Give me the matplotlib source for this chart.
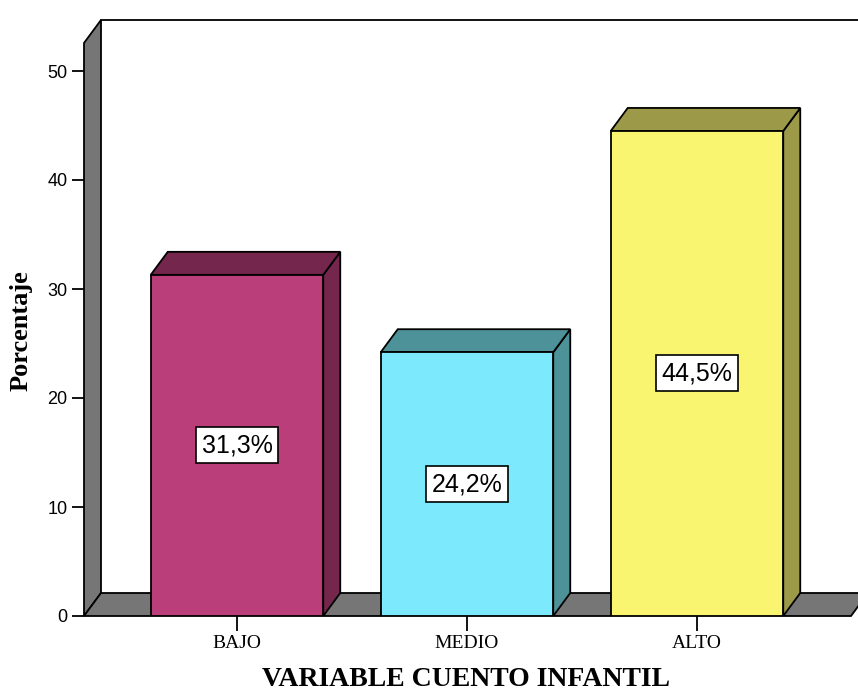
import matplotlib
matplotlib.use("Agg")
import matplotlib.pyplot as plt
from matplotlib.patches import Polygon, Rectangle

categories = ["BAJO", "MEDIO", "ALTO"]
values = [31.3, 24.2, 44.5]
labels = ["31,3%", "24,2%", "44,5%"]
yticks = [0, 10, 20, 30, 40, 50]

front_colors = ["#BA3E7A", "#7DE9FC", "#F9F570"]
dark_colors = ["#74264C", "#4E9299", "#9C9949"]
gray = "#767676"

W, H = 858, 691
fig = plt.figure(figsize=(W / 100, H / 100), dpi=100)
px_unit_y = 10.9
px_unit_x = 230.0
x0 = -(237 - 84) / px_unit_x
x1 = 2 + (858 - 697) / px_unit_x
ytop = (616 - 19) / px_unit_y
ax = fig.add_axes([84 / W, (H - 616) / H, (858 - 84) / W, (616 - 19) / H])
ax.set_xlim(x0, x1)
ax.set_ylim(0, ytop)
for s in ax.spines.values():
    s.set_visible(False)

DX = 17 / px_unit_x
DY = 23 / px_unit_y
wall_top = (616 - 43) / px_unit_y
floor_right = 2 + (851 - 697) / px_unit_x
lw = 1.3

# left wall
ax.add_patch(Polygon([(x0, 0), (x0, wall_top), (x0 + DX, wall_top + DY), (x0 + DX, DY)],
                     closed=True, facecolor=gray, edgecolor="black", lw=lw, clip_on=False, zorder=1))
# floor
ax.add_patch(Polygon([(x0, 0), (floor_right, 0), (floor_right + DX, DY), (x0 + DX, DY)],
                     closed=True, facecolor=gray, edgecolor="black", lw=lw, clip_on=False, zorder=1))
# top frame line of back wall
ax.plot([x0 + DX, x1 + 0.2], [wall_top + DY, wall_top + DY], color="black", lw=lw, clip_on=False, zorder=1)

bw = 0.75
for i, (v, fc, dc, lab) in enumerate(zip(values, front_colors, dark_colors, labels)):
    l, r = i - bw / 2, i + bw / 2
    ax.add_patch(Polygon([(r, 0), (r + DX, DY), (r + DX, v + DY), (r, v)],
                         closed=True, facecolor=dc, edgecolor="black", lw=lw, zorder=3))
    ax.add_patch(Polygon([(l, v), (r, v), (r + DX, v + DY), (l + DX, v + DY)],
                         closed=True, facecolor=dc, edgecolor="black", lw=lw, zorder=3))
    ax.add_patch(Rectangle((l, 0), bw, v, facecolor=fc, edgecolor="black", lw=lw, zorder=4))
    ax.text(i, v / 2, lab, ha="center", va="center", fontsize=18, family="Liberation Sans",
            zorder=5, bbox=dict(boxstyle="square,pad=0.24", facecolor="white", edgecolor="black", lw=1.2))

ax.set_yticks(yticks)
ax.set_yticklabels([str(t) for t in yticks], fontsize=13, family="Liberation Sans")
ax.set_xticks(range(len(categories)))
ax.set_xticklabels(categories, fontsize=14, family="Liberation Serif")
ax.tick_params(axis="y", length=9, width=1.3, pad=3)
ax.tick_params(axis="x", length=11, width=1.3, pad=3)

ax.set_ylabel("Porcentaje", fontsize=19, family="Liberation Serif", fontweight="bold")
ax.yaxis.set_label_coords((21 - 84) / 774, (616 - 331) / 597)
ax.yaxis.label.set_va("center")
ax.set_xlabel("VARIABLE CUENTO INFANTIL", fontsize=20, family="Liberation Serif", fontweight="bold")
ax.xaxis.set_label_coords((466 - 84) / 774, (616 - 679) / 597)
ax.xaxis.label.set_va("center")

fig.savefig("out.png", dpi=100, facecolor="white")
